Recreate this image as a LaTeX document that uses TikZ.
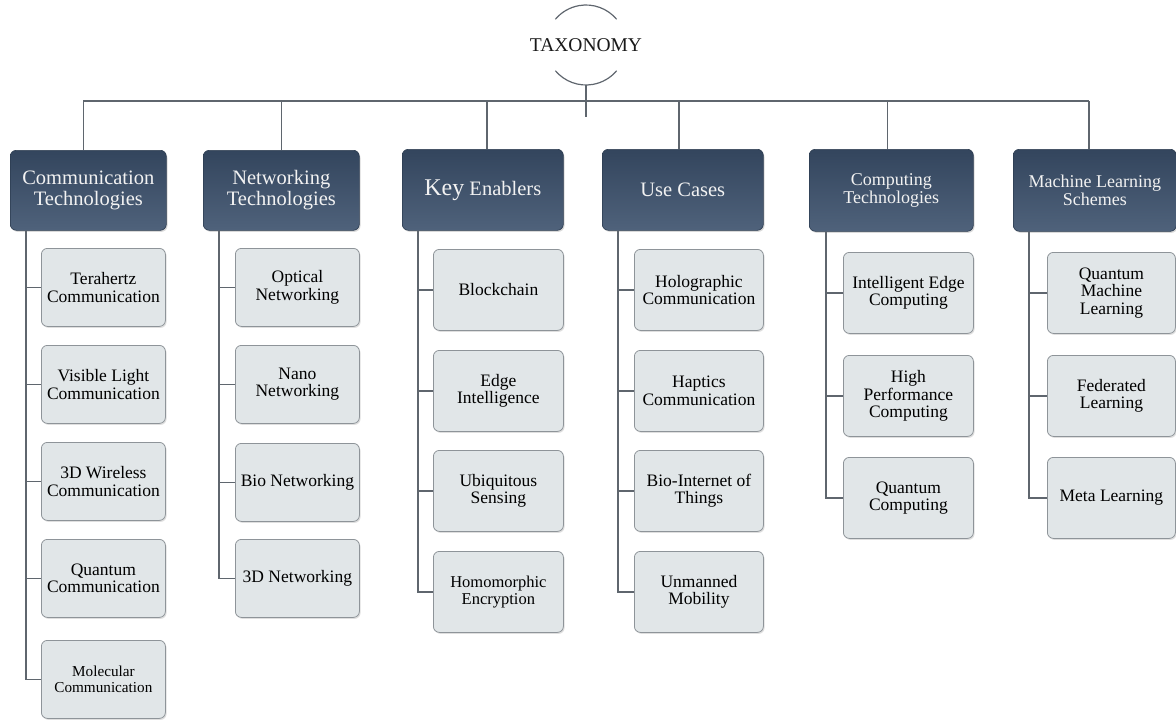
\documentclass[tikz,border=0pt]{standalone}
\usepackage{fontspec}
\setmainfont{Liberation Serif}
\usetikzlibrary{shadows}
\definecolor{hdrtop}{HTML}{33455D}
\definecolor{hdrbot}{HTML}{4F627B}
\definecolor{leaffill}{HTML}{E1E6E8}
\definecolor{leafline}{HTML}{8E9499}
\definecolor{linkgray}{HTML}{5F666E}
\tikzset{
	hdr/.style={rectangle, anchor=north west, rounded corners=6pt, top color=hdrtop, bottom color=hdrbot,
		draw=hdrtop!85!black, line width=0.6pt, text=white!95!black, align=center, inner sep=0pt,
		font=\fontsize{20.5}{21}\selectfont,
		drop shadow={shadow xshift=1.2pt, shadow yshift=-1.5pt, opacity=0.3}},
	leaf/.style={rectangle, anchor=north west, rounded corners=6pt, fill=leaffill, draw=leafline,
		line width=0.8pt, align=center, inner sep=0pt, font=\fontsize{17.5}{17.5}\selectfont,
		drop shadow={shadow xshift=1.2pt, shadow yshift=-1.5pt, opacity=0.25}},
	link/.style={draw=linkgray, line width=1.6pt},
	ring/.style={draw=linkgray, line width=1.2pt}
}
\begin{document}
\begin{tikzpicture}[x=1pt, y=-1pt]
	\useasboundingbox (0,0) rectangle (1176,720);
	
	\node[inner sep=0pt, font=\fontsize{19.5}{20}\selectfont, text=black!90] (root) at (586,45) {TAXONOMY};
	\draw[ring] ([shift={(40:40pt)}]root.center) arc[start angle=40, end angle=140, radius=40pt];
	\draw[ring] ([shift={(220:40pt)}]root.center) arc[start angle=220, end angle=320, radius=40pt];
	\coordinate (ringbot) at ([yshift=-40pt]root.center);
	\coordinate (bus) at (586,101);
	\coordinate (stem) at (586,117);
	
	% headers
	\node[hdr, minimum width=156pt, minimum height=80pt] (comm) at (10,150) {Communication\\Technologies};
	\node[hdr, minimum width=156pt, minimum height=80pt] (net) at (203,150) {Networking\\Technologies};
	\node[hdr, minimum width=161pt, minimum height=81pt] (key) at (402,149) {{\fontsize{24}{24}\selectfont Key} Enablers};
	\node[hdr, minimum width=161pt, minimum height=81pt] (use) at (602,149) {Use Cases};
	\node[hdr, minimum width=164pt, minimum height=82pt, font=\fontsize{18}{18.5}\selectfont] (comp) at (809,149) {Computing\\Technologies};
	\node[hdr, minimum width=163pt, minimum height=82pt, font=\fontsize{18}{18.5}\selectfont] (ml) at (1013,149) {Machine Learning\\Schemes};
	
	\draw[link] (ringbot) -- (stem);
	\draw[link] ([xshift=-5pt]comm.north |- bus) -- ([xshift=-6pt]ml.north |- bus);
	\draw[link] ([xshift=-5pt]comm.north) -- ([xshift=-5pt]comm.north |- bus);
	\draw[link] (net.north) -- (net.north |- bus);
	\draw[link] ([xshift=4pt]key.north) -- ([xshift=4pt]key.north |- bus);
	\draw[link] ([xshift=-4pt]use.north) -- ([xshift=-4pt]use.north |- bus);
	\draw[link] ([xshift=-4pt]comp.north) -- ([xshift=-4pt]comp.north |- bus);
	\draw[link] ([xshift=-6pt]ml.north) -- ([xshift=-6pt]ml.north |- bus);
	
	% communication technologies
	\node[leaf, minimum width=124pt, minimum height=78pt] (comm1) at (41,248) {Terahertz\\Communication};
	\node[leaf, minimum width=124pt, minimum height=78pt] (comm2) at (41,345) {Visible Light\\Communication};
	\node[leaf, minimum width=124pt, minimum height=78pt] (comm3) at (41,442) {3D Wireless\\Communication};
	\node[leaf, minimum width=124pt, minimum height=78pt] (comm4) at (41,539) {Quantum\\Communication};
	\node[leaf, minimum width=124pt, minimum height=78pt, font=\fontsize{15.2}{16}\selectfont] (comm5) at (41,640) {Molecular\\Communication};
	\draw[link] ([xshift=16pt]comm.south west) |- (comm1.west);
	\draw[link] ([xshift=16pt]comm.south west) |- (comm2.west);
	\draw[link] ([xshift=16pt]comm.south west) |- (comm3.west);
	\draw[link] ([xshift=16pt]comm.south west) |- (comm4.west);
	\draw[link] ([xshift=16pt]comm.south west) |- (comm5.west);
	
	% networking technologies
	\node[leaf, minimum width=124pt, minimum height=78pt] (net1) at (235,248) {Optical\\Networking};
	\node[leaf, minimum width=124pt, minimum height=78pt] (net2) at (235,345) {Nano\\Networking};
	\node[leaf, minimum width=124pt, minimum height=78pt] (net3) at (235,443) {Bio Networking};
	\node[leaf, minimum width=124pt, minimum height=78pt] (net4) at (235,539) {3D Networking};
	\draw[link] ([xshift=16pt]net.south west) |- (net1.west);
	\draw[link] ([xshift=16pt]net.south west) |- (net2.west);
	\draw[link] ([xshift=16pt]net.south west) |- (net3.west);
	\draw[link] ([xshift=16pt]net.south west) |- (net4.west);
	
	% key enablers
	\node[leaf, minimum width=130pt, minimum height=81pt] (key1) at (433,249) {Blockchain};
	\node[leaf, minimum width=130pt, minimum height=81pt] (key2) at (433,350) {Edge\\Intelligence};
	\node[leaf, minimum width=130pt, minimum height=81pt] (key3) at (433,450) {Ubiquitous\\Sensing};
	\node[leaf, minimum width=130pt, minimum height=81pt, font=\fontsize{16.5}{17}\selectfont] (key4) at (433,551) {Homomorphic\\Encryption};
	\draw[link] ([xshift=16pt]key.south west) |- (key1.west);
	\draw[link] ([xshift=16pt]key.south west) |- (key2.west);
	\draw[link] ([xshift=16pt]key.south west) |- (key3.west);
	\draw[link] ([xshift=16pt]key.south west) |- (key4.west);
	
	% use cases
	\node[leaf, minimum width=129pt, minimum height=81pt] (use1) at (634,249) {Holographic\\Communication};
	\node[leaf, minimum width=129pt, minimum height=81pt] (use2) at (634,350) {Haptics\\Communication};
	\node[leaf, minimum width=129pt, minimum height=81pt] (use3) at (634,450) {Bio-Internet of\\Things};
	\node[leaf, minimum width=129pt, minimum height=81pt] (use4) at (634,551) {Unmanned\\Mobility};
	\draw[link] ([xshift=16pt]use.south west) |- (use1.west);
	\draw[link] ([xshift=16pt]use.south west) |- (use2.west);
	\draw[link] ([xshift=16pt]use.south west) |- (use3.west);
	\draw[link] ([xshift=16pt]use.south west) |- (use4.west);
	
	% computing technologies
	\node[leaf, minimum width=130pt, minimum height=81pt] (comp1) at (843,252) {Intelligent Edge\\Computing};
	\node[leaf, minimum width=130pt, minimum height=81pt] (comp2) at (843,355) {High\\Performance\\Computing};
	\node[leaf, minimum width=130pt, minimum height=81pt] (comp3) at (843,457) {Quantum\\Computing};
	\draw[link] ([xshift=17pt]comp.south west) |- (comp1.west);
	\draw[link] ([xshift=17pt]comp.south west) |- (comp2.west);
	\draw[link] ([xshift=17pt]comp.south west) |- (comp3.west);
	
	% machine learning schemes
	\node[leaf, minimum width=128pt, minimum height=81pt] (ml1) at (1047,252) {Quantum\\Machine\\Learning};
	\node[leaf, minimum width=128pt, minimum height=81pt] (ml2) at (1047,355) {Federated\\Learning};
	\node[leaf, minimum width=128pt, minimum height=81pt] (ml3) at (1047,457) {Meta Learning};
	\draw[link] ([xshift=16pt]ml.south west) |- (ml1.west);
	\draw[link] ([xshift=16pt]ml.south west) |- (ml2.west);
	\draw[link] ([xshift=16pt]ml.south west) |- (ml3.west);
\end{tikzpicture}
\end{document}
